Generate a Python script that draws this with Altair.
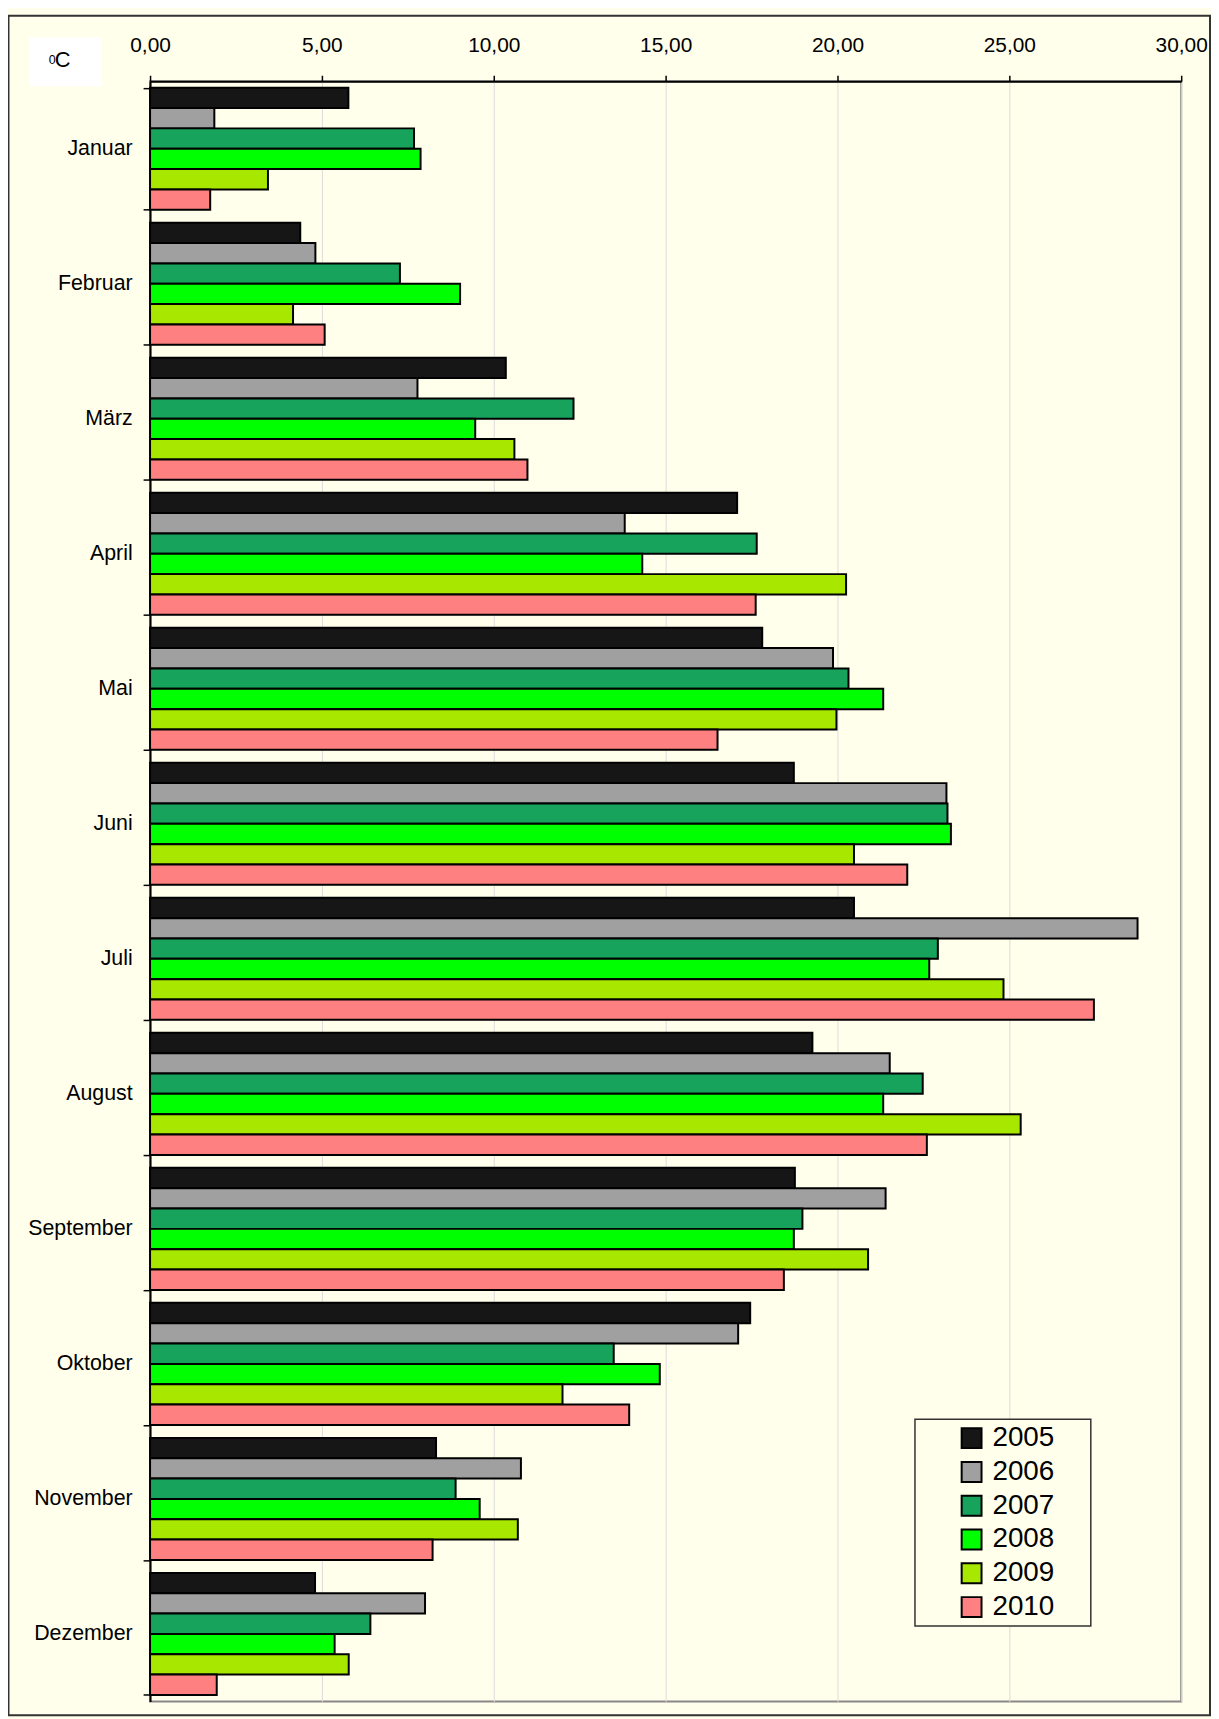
import altair as alt
import pandas as pd

months = ["Januar", "Februar", "März", "April", "Mai", "Juni", "Juli",
          "August", "September", "Oktober", "November", "Dezember"]
years = ["2005", "2006", "2007", "2008", "2009", "2010"]

t2005 = [5.77, 4.37, 10.35, 17.08, 17.81, 18.73, 20.48, 19.27, 18.76, 17.46, 8.32, 4.80]
t2006 = [1.87, 4.81, 7.78, 13.81, 19.87, 23.17, 28.73, 21.52, 21.40, 17.11, 10.79, 8.00]
t2007 = [7.68, 7.27, 12.32, 17.65, 20.32, 23.20, 22.92, 22.48, 18.98, 13.49, 8.89, 6.41]
t2008 = [7.87, 9.02, 9.46, 14.32, 21.33, 23.30, 22.67, 21.33, 18.73, 14.83, 9.59, 5.37]
t2009 = [3.43, 4.16, 10.60, 20.25, 19.97, 20.48, 24.83, 25.33, 20.89, 12.00, 10.70, 5.78]
t2010 = [1.75, 5.08, 10.98, 17.62, 16.51, 22.03, 27.46, 22.60, 18.44, 13.94, 8.22, 1.94]

colors = ["#161616", "#A0A0A0", "#17A35B", "#00FF00", "#A8E800", "#FF8080"]
x_ticks = [0, 5, 10, 15, 20, 25, 30]

series = [t2005, t2006, t2007, t2008, t2009, t2010]
rows = []
for y, vals in zip(years, series):
    for m, v in zip(months, vals):
        rows.append({"Monat": m, "Jahr": y, "Temp": v})
df = pd.DataFrame(rows)

BG = "#FFFFEB"
FONT = "Liberation Sans"
W, H = 1038, 1631
one = pd.DataFrame({"a": [0]})

bars = alt.Chart(df).mark_bar(stroke="black", strokeWidth=2).encode(
    y=alt.Y("Monat:N", sort=months,
            scale=alt.Scale(paddingInner=0.096, paddingOuter=0.048),
            axis=alt.Axis(title=None, tickBand="extent", tickSize=7, tickColor="black",
                          tickWidth=1.5, domainColor="black", domainWidth=2,
                          labelFontSize=21.5, labelFont=FONT, labelColor="black",
                          labelPadding=11, grid=False)),
    yOffset=alt.YOffset("Jahr:N", sort=years, scale=alt.Scale(paddingInner=0, paddingOuter=0)),
    x=alt.X("Temp:Q", scale=alt.Scale(domain=[0, 30], nice=False, zero=True),
            axis=alt.Axis(orient="top", title=None, values=x_ticks, tickSize=6,
                          tickColor="black", tickWidth=1.5, domainColor="black",
                          domainWidth=2, grid=True, gridColor="#DCDCDC", gridWidth=1,
                          labelFontSize=21, labelFont=FONT, labelColor="black",
                          labelPadding=20, labelFlush=False, labelOverlap=False,
                          labelExpr="replace(format(datum.value, '.2f'), '.', ',')")),
    color=alt.Color("Jahr:N", sort=years,
                    scale=alt.Scale(domain=years, range=colors),
                    legend=alt.Legend(title=None, orient="none", legendX=813, legendY=1352,
                                      symbolType="square", symbolSize=400,
                                      symbolStrokeColor="black", symbolStrokeWidth=2,
                                      labelFontSize=28, labelFont=FONT, labelColor="black",
                                      rowPadding=6, labelOffset=7, padding=0, zindex=1)),
)

outer = alt.Chart(one).mark_rect(fill=None, stroke="#333333", strokeWidth=2).encode(
    x=alt.value(-142.5), x2=alt.value(1067), y=alt.value(-66), y2=alt.value(1645))

unit_box = alt.Chart(one).mark_rect(fill="white", stroke=None).encode(
    x=alt.value(-122), x2=alt.value(-49), y=alt.value(-44), y2=alt.value(5))

unit_sup = alt.Chart(one).mark_text(text="0", fontSize=12.5, font=FONT, color="black",
                                    align="left", baseline="alphabetic").encode(
    x=alt.value(-102), y=alt.value(-17))
unit_c = alt.Chart(one).mark_text(text="C", fontSize=22, font=FONT, color="black",
                                  align="left", baseline="alphabetic").encode(
    x=alt.value(-96), y=alt.value(-14))

legend_box = alt.Chart(one).mark_rect(fill=BG, stroke="#333333", strokeWidth=1.5).encode(
    x=alt.value(770), x2=alt.value(947), y=alt.value(1347), y2=alt.value(1555))

chart = alt.layer(outer, unit_box, unit_sup, unit_c, bars, legend_box).properties(
    width=W, height=H,
    autosize="none",
    padding={"left": 143, "top": 68, "right": 30, "bottom": 15},
    background=BG,
).configure_view(stroke="#888888", strokeWidth=2, fill=BG)

chart.save("out.html", embed_options={"renderer": "svg", "actions": False})
